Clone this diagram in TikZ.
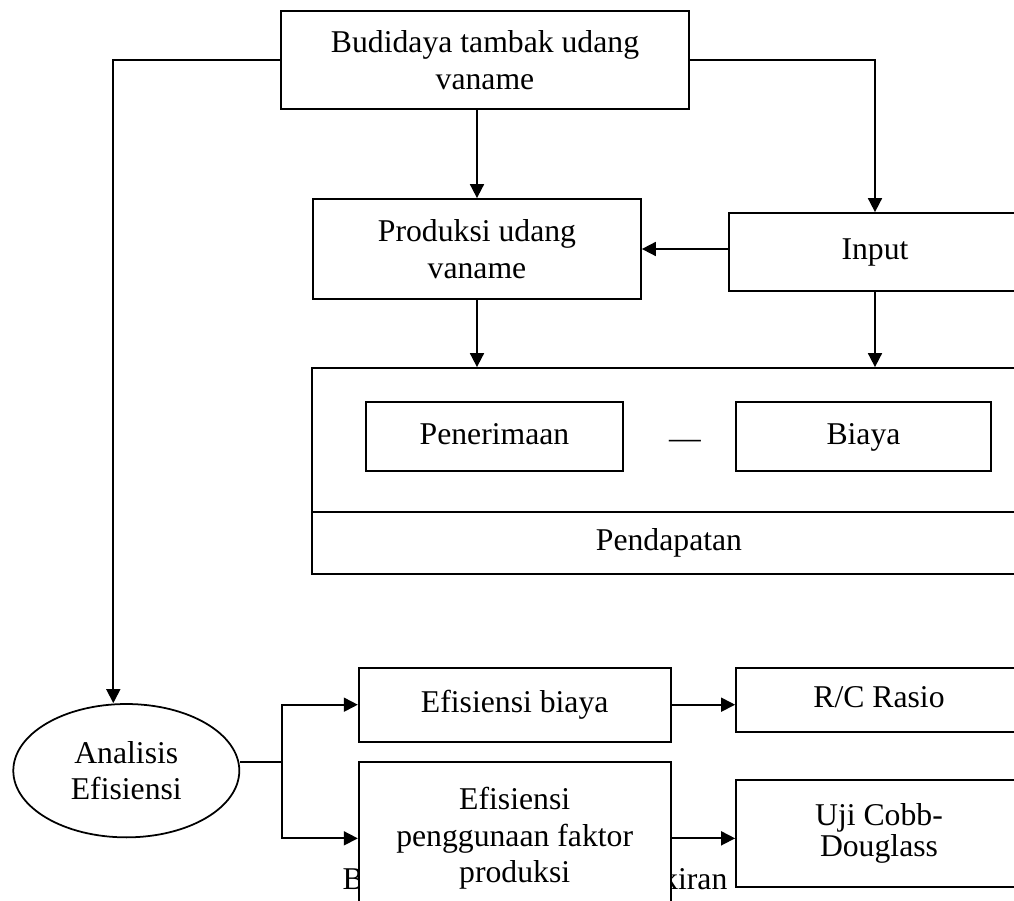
\documentclass[tikz,border=0pt]{standalone}
\usepackage{fontspec}
\setmainfont{Liberation Serif}
\usetikzlibrary{arrows.meta,shapes.geometric}

\begin{document}
\begin{tikzpicture}[line width=1pt, font=\fontsize{18.04pt}{20.9pt}\selectfont]
  \useasboundingbox (0, 0) rectangle (20.28, -18.02);
  \clip (0, 0) rectangle (20.28, -18.02);  % Rand wie im Original.
  \tikzstyle{box}=[draw, rectangle, inner sep=0pt, align=center, fill=white]
  \tikzstyle{one}=[box, text height=12.6pt, text depth=4pt]
  \tikzstyle{arr}=[-{Triangle[length=0.28cm, width=0.28cm]}]

  \node[anchor=base] (14) at (10.70, -17.80) {Bagan 2. Kerangka Pemikiran};

  \node[box, minimum width=8.16cm, minimum height=1.96cm] (1) at (9.70, -1.20) {Budidaya tambak udang\\vaname};
  \node[box, minimum width=6.56cm, minimum height=2.00cm] (2) at (9.54, -4.98) {Produksi udang\\vaname};
  \node[one, minimum width=5.84cm, minimum height=1.56cm] (3) at (17.50, -5.04) {Input};

  \node[box, minimum width=14.28cm, minimum height=2.88cm] (4) at (13.38, -8.80) {};
  \node[one, minimum width=14.28cm, minimum height=1.24cm] (5) at (13.38, -10.86) {Pendapatan};
  \node[one, minimum width=5.14cm, minimum height=1.38cm] (6) at (9.89, -8.73) {Penerimaan};
  \node[one, minimum width=5.09cm, minimum height=1.38cm] (7) at (17.27, -8.73) {Biaya};
  \node (8) at (13.70, -8.88) {—};

  \node[draw, ellipse, inner sep=0pt, align=center, minimum width=4.52cm, minimum height=2.667cm] (9) at (2.526, -15.414) {Analisis\\Efisiensi};
  \node[one, minimum width=6.24cm, minimum height=1.48cm] (10) at (10.294, -14.094) {Efisiensi biaya};
  \node[box, minimum width=6.24cm, minimum height=3.066cm] (11) at (10.294, -16.767) {Efisiensi\\penggunaan faktor\\produksi};
  \node[one, minimum width=5.72cm, minimum height=1.28cm] (12) at (17.58, -13.994) {R/C Rasio};
  \node[box, minimum width=5.72cm, minimum height=2.134cm, font=\fontsize{18.04pt}{17.6pt}\selectfont] (13) at (17.58, -16.666) {Uji Cobb-\\Douglass};
  \coordinate (s) at (5.634, -15.234);

  \draw[arr] (1.south -| 2.north) -- (2.north);
  \draw[arr] (1.east) -| (3.north);
  \draw[arr] (1.west) -| ([xshift=-0.26cm]9.north);
  \draw[arr] (3.west |- 2.east) -- (2.east);
  \draw[arr] (2.south) -- (2.south |- 4.north);
  \draw[arr] (3.south) -- (3.south |- 4.north);

  \draw (9.east |- s) -- (s);
  \draw[arr] (s) |- (10.west);
  \draw[arr] (s) |- (11.west);
  \draw[arr] (10.east) -- (10.east -| 12.west);
  \draw[arr] (11.east) -- (11.east -| 13.west);
\end{tikzpicture}
\end{document}
